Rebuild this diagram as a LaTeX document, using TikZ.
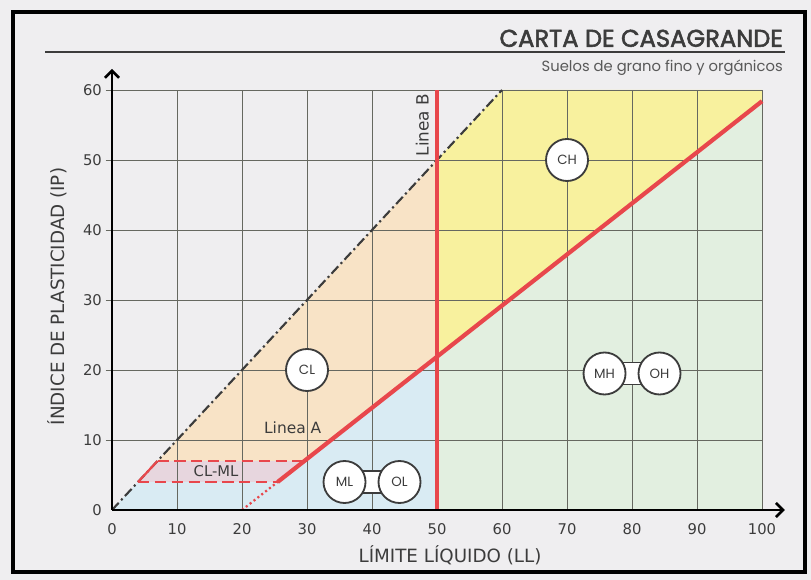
\documentclass[tikz,border=0pt]{standalone}
\usepackage{fontspec}
\setmainfont{DejaVu Sans}
\newfontfamily\gothic{Poppins}
\newfontfamily\gothicbold[FakeBold=2.2]{Poppins}
\usetikzlibrary{arrows.meta}

\definecolor{paper}{HTML}{EFEEF0}
\definecolor{zoneCL}{HTML}{F8E3C6}
\definecolor{zoneCH}{HTML}{F8F19E}
\definecolor{zoneML}{HTML}{D9EBF3}
\definecolor{zoneMH}{HTML}{E2EFE0}
\definecolor{zoneband}{HTML}{E7D6DE}
\definecolor{linered}{HTML}{E8474C}
\definecolor{gridgray}{HTML}{666860}
\definecolor{ink}{HTML}{3C3C3C}

\pgfdeclarelayer{sheet}
\pgfdeclarelayer{zones}
\pgfdeclarelayer{links}
\pgfsetlayers{sheet,zones,links,main}

\tikzset{
  soil/.style={circle, draw=ink, line width=1.3pt, fill=white, minimum size=1.05cm,
    inner sep=0pt, font=\gothic\fontsize{9.5}{10}\selectfont, text=ink},
  link/.style={draw=ink, line width=1.3pt, fill=white},
  redline/.style={draw=linered, line width=3pt},
  gridline/.style={draw=gridgray, line width=0.6pt},
  tick/.style={font=\fontsize{10.5}{12}\selectfont, text=ink},
  axislabel/.style={font=\fontsize{13}{15}\selectfont, text=ink},
}

\begin{document}
\begin{tikzpicture}
  \useasboundingbox (0,0) rectangle (20.275,14.5);
  \begin{pgfonlayer}{sheet}
    \fill[paper] (0,0) rectangle (20.275,14.5);
  \end{pgfonlayer}
  \draw[black, line width=3pt] (0.325,0.2) rectangle (20.125,14.2);

  % title
  \draw[ink, line width=1.6pt] (1.125,13.2) -- (19.625,13.2);
  \node[anchor=base east, inner sep=0pt, text=ink, font=\gothicbold\fontsize{17.2}{19}\selectfont] (title) at (19.575,13.33) {CARTA DE CASAGRANDE};
  \node[anchor=base east, inner sep=0pt, text=ink!85, font=\gothic\fontsize{10.5}{12}\selectfont] (subtitle) at (19.575,12.7) {Suelos de grano fino y orgánicos};

  \begin{scope}[shift={(2.8,1.75)}, x=0.1625cm, y=0.175cm]
    \coordinate (A0) at (20,0);
    \coordinate (A4) at (25.48,4);
    \coordinate (A7) at (29.59,7);
    \coordinate (A50) at (50,21.9);
    \coordinate (A100) at (100,58.4);
    \coordinate (U4) at (4,4);
    \coordinate (U7) at (7,7);
    \coordinate (U50) at (50,50);
    \coordinate (U60) at (60,60);

    \begin{pgfonlayer}{zones}
      % zones
      \fill[zoneML] (0,0) -- (U4) -- (A4) -- (A50) -- (50,0) -- cycle;
      \fill[zoneband] (U4) -- (A4) -- (A7) -- (U7) -- cycle;
      \fill[zoneCL] (U7) -- (A7) -- (A50) -- (U50) -- cycle;
      \fill[zoneCH] (A50) -- (U50) -- (U60) -- (100,60) -- (A100) -- cycle;
      \fill[zoneMH] (50,0) -- (A50) -- (A100) -- (100,0) -- cycle;

      % grid
      \foreach \x in {10,20,...,100}
        \draw[gridline] (\x,0) -- (\x,60);
      \foreach \y in {10,20,...,60}
        \draw[gridline] (-1,\y) -- (100,\y);

      % lines
      \draw[ink, line width=1.5pt, dash pattern=on 7pt off 2.5pt on 1.5pt off 2.5pt] (0,0) -- (U60);
      \draw[linered, line width=1.6pt] (U4) -- (U7);
      \draw[linered, line width=2pt, dash pattern=on 8pt off 4pt] (U4) -- (A4);
      \draw[linered, line width=2pt, dash pattern=on 8pt off 4pt] (U7) -- (A7);
      \draw[linered, line width=1.6pt, dash pattern=on 1.5pt off 2pt] (A0) -- (A4);
      \draw[redline] (A4) -- (A100);
      \draw[redline, line width=2.8pt] (50,0) -- (50,60);

      % axes
      \draw[black, line width=1.8pt, -{Straight Barb[length=5pt,width=10pt]}] (0,0) -- (0,63);
      \draw[black, line width=1.8pt, -{Straight Barb[length=5pt,width=10pt]}] (0,0) -- (103.5,0);
    \end{pgfonlayer}

    % ticks
    \foreach \x in {0,10,...,100}
      \node[tick, anchor=north] (xt\x) at (\x,-1.2) {\x};
    \foreach \y in {0,10,...,60}
      \node[tick, anchor=east] (yt\y) at (-0.8,\y) {\y};

    \node[axislabel, rotate=90] (ylabel) at (-8.5,30.5) {ÍNDICE DE PLASTICIDAD (IP)};
    \node[axislabel] (xlabel) at (52,-6.4) {LÍMITE LÍQUIDO (LL)};

    \node[font=\fontsize{11}{12}\selectfont, text=ink] (lineaA) at (27.8,11.7) {Linea A};
    \node[font=\fontsize{12}{13}\selectfont, text=ink, rotate=90, anchor=south] (lineaB) at (49.5,55) {Linea B};
    \node[font=\fontsize{10.5}{12}\selectfont, text=ink] (clml) at (16,5.5) {CL-ML};

    % soil groups
    \node[soil] (CL) at (30,20) {CL};
    \node[soil] (CH) at (70,50) {CH};
    \node[soil] (ML) at (35.77,4) {ML};
    \node[soil] (OL) at (44.23,4) {OL};
    \node[soil] (MH) at (75.77,19.5) {MH};
    \node[soil] (OH) at (84.23,19.5) {OH};

    \begin{pgfonlayer}{links}
      \draw[link] ([yshift=-0.275cm]ML.center) rectangle ([yshift=0.275cm]OL.center);
      \draw[link] ([yshift=-0.275cm]MH.center) rectangle ([yshift=0.275cm]OH.center);
    \end{pgfonlayer}
  \end{scope}
\end{tikzpicture}
\end{document}
